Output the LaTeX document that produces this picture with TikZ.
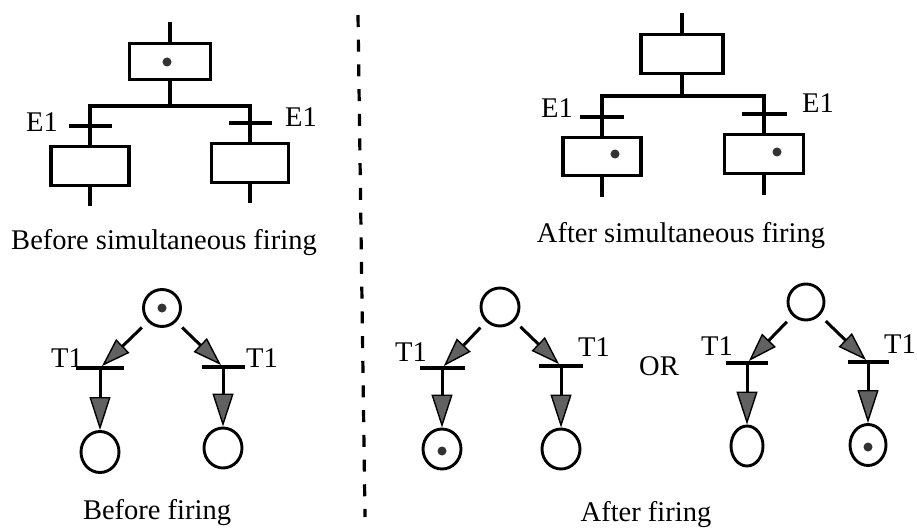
\documentclass[tikz,border=0pt]{standalone}
\usepackage{fontspec}
\setmainfont{Liberation Serif}
\usetikzlibrary{arrows.meta,shapes.geometric}

\begin{document}
\begin{tikzpicture}[x=1pt,y=-1pt,
  sfcbox/.style={draw,line width=3.2pt,inner sep=0pt},
  bar/.style={fill=black,inner sep=0pt,minimum height=3.4pt},
  link/.style={line width=3.2pt},
  tok/.style={circle,fill=black!80,inner sep=0pt,minimum size=9pt},
  place/.style={ellipse,draw,line width=2.9pt,inner sep=0pt},
  lbl/.style={font=\fontsize{28.5}{32}\selectfont,inner sep=0pt},
  diag/.style={line width=3pt,shorten <=8pt,
    -{Triangle[length=29pt,width=19pt,line width=1.4pt,fill=black!62]}},
  vert/.style={line width=3pt,
    -{Triangle[length=33pt,width=21pt,line width=1.4pt,fill=black!62]}},
  divider/.style={line width=3.2pt,dash pattern=on 12pt off 12.7pt}
]
\useasboundingbox (0,0) rectangle (917,529);

% ---------- SFC before simultaneous firing ----------
\coordinate (a0) at (170,22);
\node[sfcbox,minimum width=81pt,minimum height=36pt] (s0) at (170,61.5) {};
\node[tok] (s0dot) at (167,62) {};
\coordinate (ab) at (170,106);
\node[bar,minimum width=43pt] (e1) at (90,126) {};
\node[sfcbox,minimum width=78pt,minimum height=39pt] (s1) at (90,166) {};
\coordinate (a1) at (90,206);
\node[bar,minimum width=43pt] (e2) at (250,123) {};
\node[sfcbox,minimum width=77pt,minimum height=39pt] (s2) at (250,163) {};
\coordinate (a2) at (250,203);
\draw[link] (a0) -- (s0);
\draw[link] (s0) -- (ab);
\draw[link] (s1) |- (ab) -| (s2);
\draw[link] (s1) -- (a1);
\draw[link] (s2) -- (a2);
\node[lbl] (le1) at (42,122) {E1};
\node[lbl] (le2) at (301,117) {E1};
\node[lbl,anchor=base] (cap1) at (164,249) {Before simultaneous firing};

% ---------- SFC after simultaneous firing ----------
\coordinate (b0) at (682,13);
\node[sfcbox,minimum width=82pt,minimum height=39pt] (u0) at (682,54) {};
\coordinate (bb) at (682,96);
\node[bar,minimum width=44pt] (f1) at (602,117) {};
\node[sfcbox,minimum width=78pt,minimum height=38pt] (u1) at (602,156.5) {};
\node[tok] (u1dot) at (615,154) {};
\coordinate (b1) at (602,197);
\node[bar,minimum width=45pt] (f2) at (764,114) {};
\node[sfcbox,minimum width=79pt,minimum height=39pt] (u2) at (764,154) {};
\node[tok] (u2dot) at (777,152) {};
\coordinate (b2) at (764,195);
\draw[link] (b0) -- (u0);
\draw[link] (u0) -- (bb);
\draw[link] (u1) |- (bb) -| (u2);
\draw[link] (u1) -- (b1);
\draw[link] (u2) -- (b2);
\node[lbl] (lf1) at (557,108) {E1};
\node[lbl] (lf2) at (818,103) {E1};
\node[lbl,anchor=base] (cap2) at (681,243) {After simultaneous firing};

% ---------- divider ----------
\coordinate (d1) at (358,15);
\coordinate (d2) at (365,517);
\draw[divider] (d1) -- (d2);

% ---------- Petri net before firing ----------
\node[place,minimum width=37pt,minimum height=37pt] (p0) at (162,308) {};
\node[tok] (p0dot) at (162,308) {};
\node[bar,minimum width=48pt] (t1) at (100,368) {};
\node[place,minimum width=38pt,minimum height=41pt] (p1) at (100,452) {};
\node[bar,minimum width=43pt] (t2) at (223,367) {};
\node[place,minimum width=38pt,minimum height=40pt] (p2) at (223,448) {};
\draw[diag] (p0) -- (t1);
\draw[vert] (t1) -- (p1);
\draw[diag] (p0) -- (t2);
\draw[vert] (t2) -- (p2);
\node[lbl] (lt1) at (67,358) {T1};
\node[lbl] (lt2) at (262,358) {T1};
\node[lbl,anchor=base] (cap3) at (157,519) {Before firing};

% ---------- Petri net after firing, first outcome ----------
\node[place,minimum width=38pt,minimum height=38pt] (q0) at (500,307) {};
\node[bar,minimum width=45pt] (k1) at (442,368) {};
\node[place,minimum width=38pt,minimum height=40pt] (q1) at (442,449) {};
\node[tok] (q1dot) at (442,451) {};
\node[bar,minimum width=44pt] (k2) at (561,366) {};
\node[place,minimum width=38pt,minimum height=40pt] (q2) at (561,449) {};
\draw[diag] (q0) -- (k1);
\draw[vert] (k1) -- (q1);
\draw[diag] (q0) -- (k2);
\draw[vert] (k2) -- (q2);
\node[lbl] (lk1) at (411,352) {T1};
\node[lbl] (lk2) at (594,347) {T1};

\node[lbl] (or) at (659,366) {OR};

% ---------- Petri net after firing, second outcome ----------
\node[place,minimum width=36pt,minimum height=36pt] (r0) at (806,302) {};
\node[bar,minimum width=42pt] (m1) at (747,363) {};
\node[place,minimum width=32pt,minimum height=40pt] (r1) at (747,446) {};
\node[bar,minimum width=41pt] (m2) at (868,362) {};
\node[place,minimum width=36pt,minimum height=41pt] (r2) at (868,445) {};
\node[tok] (r2dot) at (868,447) {};
\draw[diag] (r0) -- (m1);
\draw[vert] (m1) -- (r1);
\draw[diag] (r0) -- (m2);
\draw[vert] (m2) -- (r2);
\node[lbl] (lm1) at (717,346) {T1};
\node[lbl,anchor=east] (lm2) at (916,344) {T1};

\node[lbl,anchor=base] (cap4) at (646,521) {After firing};
\end{tikzpicture}
\end{document}
